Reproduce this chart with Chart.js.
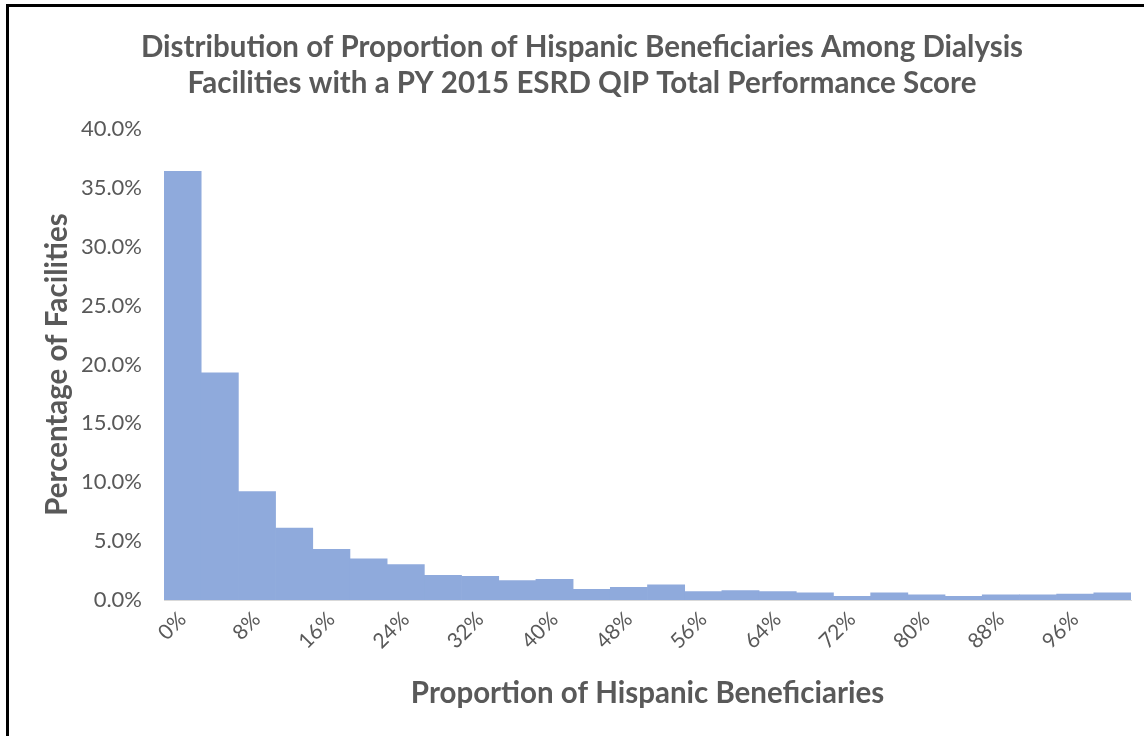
<!DOCTYPE html>
<html>
<head>
<meta charset="utf-8">
<script src="https://cdn.jsdelivr.net/npm/chart.js@4.4.1/dist/chart.umd.min.js"></script>
<style>
  html, body { margin: 0; padding: 0; background: #fff; overflow: hidden; }
  #wrap { position: relative; width: 1144px; height: 736px; }
  #frame {
    position: absolute; left: 6px; top: 4px; width: 1200px; height: 800px;
    border-left: 3px solid #000; border-top: 3px solid #000; pointer-events: none;
  }
</style>
</head>
<body>
<div id="wrap">
  <canvas id="graph" width="1144" height="736"></canvas>
  <div id="frame"></div>
</div>
<script>
// bins of the histogram (lower edge of each 4% bin)
const binLabels = ["0%", "4%", "8%", "12%", "16%", "20%", "24%", "28%", "32%", "36%", "40%", "44%", "48%",
    "52%", "56%", "60%", "64%", "68%", "72%", "76%", "80%", "84%", "88%", "92%", "96%", "100%"];
// percentage of facilities in each bin
const facilityPct = [36.4, 19.3, 9.2, 6.1, 4.3, 3.5, 3.0, 2.1, 2.0, 1.65, 1.76, 0.91, 1.08,
    1.28, 0.71, 0.8, 0.71, 0.6, 0.31, 0.6, 0.43, 0.31, 0.43, 0.43, 0.51, 0.6];
const yMax = 40;
const yStep = 5;

const grey = "#595959";
const fontName = "Lato, 'Open Sans', sans-serif";

const graph = document.getElementById('graph').getContext('2d');

let myChart = new Chart(graph, {
    type: "bar",
    data: {
        labels: binLabels,
        datasets: [
            {
                label: "Percentage of Facilities",
                data: facilityPct,
                backgroundColor: "#8FAADC",
                borderWidth: 0,
                barPercentage: 1,
                categoryPercentage: 1,
            }
        ]
    },
    options: {
        responsive: false,
        animation: false,
        layout: {
            padding: { left: 33, right: 13, top: 20, bottom: 0 },
        },
        plugins: {
            legend: { display: false },
            tooltip: { enabled: false },
            title: {
                display: true,
                text: ["Distribution of Proportion of Hispanic Beneficiaries Among Dialysis",
                       "Facilities with a PY 2015 ESRD QIP Total Performance Score"],
                color: grey,
                font: { family: fontName, size: 29.5, weight: "bold", lineHeight: 1.22 },
                padding: { top: 9, bottom: 28 },
            },
        },
        scales: {
            x: {
                grid: { display: false, drawTicks: false },
                border: { display: true, color: "#D9D9D9", width: 1 },
                ticks: {
                    color: grey,
                    font: { family: fontName, size: 21 },
                    autoSkip: false,
                    maxRotation: 45,
                    minRotation: 45,
                    padding: 7,
                    callback: function (value, index) {
                        return index % 2 === 0 ? binLabels[index] : "";
                    },
                },
                title: {
                    display: true,
                    text: "Proportion of Hispanic Beneficiaries",
                    color: grey,
                    font: { family: fontName, size: 29.5, weight: "bold", lineHeight: 1.2 },
                    padding: { top: 4, bottom: 25 },
                },
                afterFit: function (scale) { scale.height = 136; },
            },
            y: {
                min: 0,
                max: yMax,
                grid: { display: false, drawTicks: false },
                border: { display: false },
                ticks: {
                    stepSize: yStep,
                    color: grey,
                    font: { family: fontName, size: 22 },
                    padding: 22,
                    callback: function (value) { return value.toFixed(1) + "%"; },
                },
                title: {
                    display: true,
                    text: "Percentage of Facilities",
                    color: grey,
                    font: { family: fontName, size: 29.5, weight: "bold", lineHeight: 1.2 },
                    padding: { top: 7, bottom: 0 },
                },
                afterFit: function (scale) { scale.width = 131; },
            },
        },
    },
});
</script>
</body>
</html>
